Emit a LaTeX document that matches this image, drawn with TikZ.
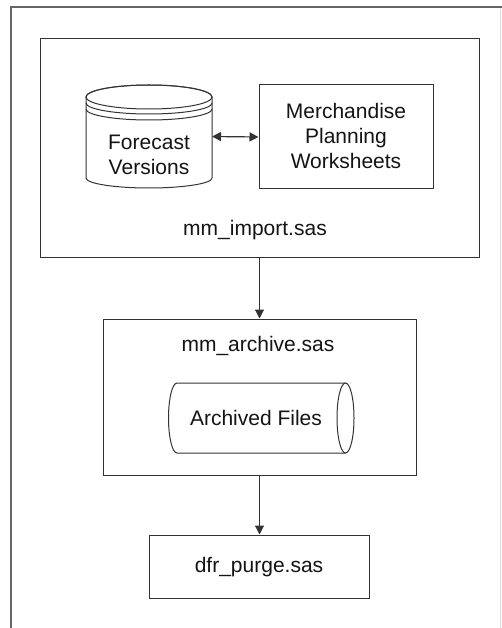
\documentclass[tikz,border=0pt]{standalone}
\usepackage{fontspec}
\setmainfont{Liberation Sans}
\usetikzlibrary{arrows.meta}

\definecolor{inkline}{HTML}{333333}
\definecolor{inktext}{HTML}{141414}
\definecolor{framegray}{HTML}{666666}

\tikzset{
  box/.style={draw=inkline, line width=1pt, fill=white, inner sep=0pt},
  hidden/.style={inner sep=0pt, outer sep=0pt},
  txt/.style={text=inktext, font=\fontsize{21}{25}\selectfont, align=center, inner sep=0pt},
  shapeline/.style={draw=inkline, line width=1pt},
  flow/.style={draw=inkline, line width=1.2pt, -{Triangle[length=9pt,width=9pt]}},
  twoway/.style={draw=inkline, line width=1.2pt, {Triangle[length=9pt,width=9pt]}-{Triangle[length=9pt,width=9pt]}},
}

\begin{document}
\begin{tikzpicture}[x=1pt, y=-1pt]
  \useasboundingbox (0,0) rectangle (502,628);
  \fill[white] (0,0) rectangle (502,628);

  % page frame
  \draw[framegray, line width=1.8pt] (11,628) -- (11,7) -- (502,7);
  \draw[black!15, line width=0.8pt] (500.5,9) -- (500.5,628);

  % mm_import.sas container
  \node[box, minimum width=439pt, minimum height=218pt] (import) at (259.5,148) {};
  \node[txt] (importlbl) at (255,230) {mm\_import.sas};

  % forecast versions data store (stacked disk)
  \node[hidden, minimum width=126pt, minimum height=103pt] (forecast) at (149,136.5) {};
  \path[shapeline, fill=white]
    (86,97) -- (86,178) arc[start angle=180, end angle=360, x radius=63pt, y radius=10pt]
    -- (212,97) arc[start angle=0, end angle=180, x radius=63pt, y radius=12pt] -- cycle;
  \draw[shapeline] (149,97) ellipse[x radius=63pt, y radius=12pt];
  \draw[shapeline] (86,103) arc[start angle=180, end angle=360, x radius=63pt, y radius=11pt];
  \draw[shapeline] (86,109) arc[start angle=180, end angle=360, x radius=63pt, y radius=11pt];
  \node[txt] (forecastlbl) at (149,155) {Forecast\\Versions};

  % worksheets
  \node[box, minimum width=174pt, minimum height=104pt] (sheets) at (346,137) {};
  \node[txt] (sheetslbl) at (346,136) {Merchandise\\Planning\\Worksheets};

  \draw[twoway] (forecast.east) -- (sheets.west);

  % mm_archive.sas container
  \node[box, minimum width=313pt, minimum height=156pt] (archive) at (259.5,397) {};
  \node[txt] (archivelbl) at (258,346) {mm\_archive.sas};

  % archived files (horizontal cylinder)
  \node[hidden, minimum width=185pt, minimum height=70pt] (files) at (261.5,418) {};
  \draw[shapeline]
    (345.5,453) -- (177,453) arc[start angle=270, end angle=90, x radius=8.5pt, y radius=35pt]
    -- (345.5,383);
  \draw[shapeline] (345.5,418) ellipse[x radius=8.5pt, y radius=35pt];
  \node[txt] (fileslbl) at (256,418) {Archived Files};

  % dfr_purge.sas
  \node[box, minimum width=220pt, minimum height=63pt] (purge) at (259,566.5) {};
  \node[txt] (purgelbl) at (259,567) {dfr\_purge.sas};

  % flow between stages
  \draw[flow] (import.south) -- (archive.north);
  \draw[flow] (archive.south) -- (purge.north -| archive.south);
\end{tikzpicture}
\end{document}
